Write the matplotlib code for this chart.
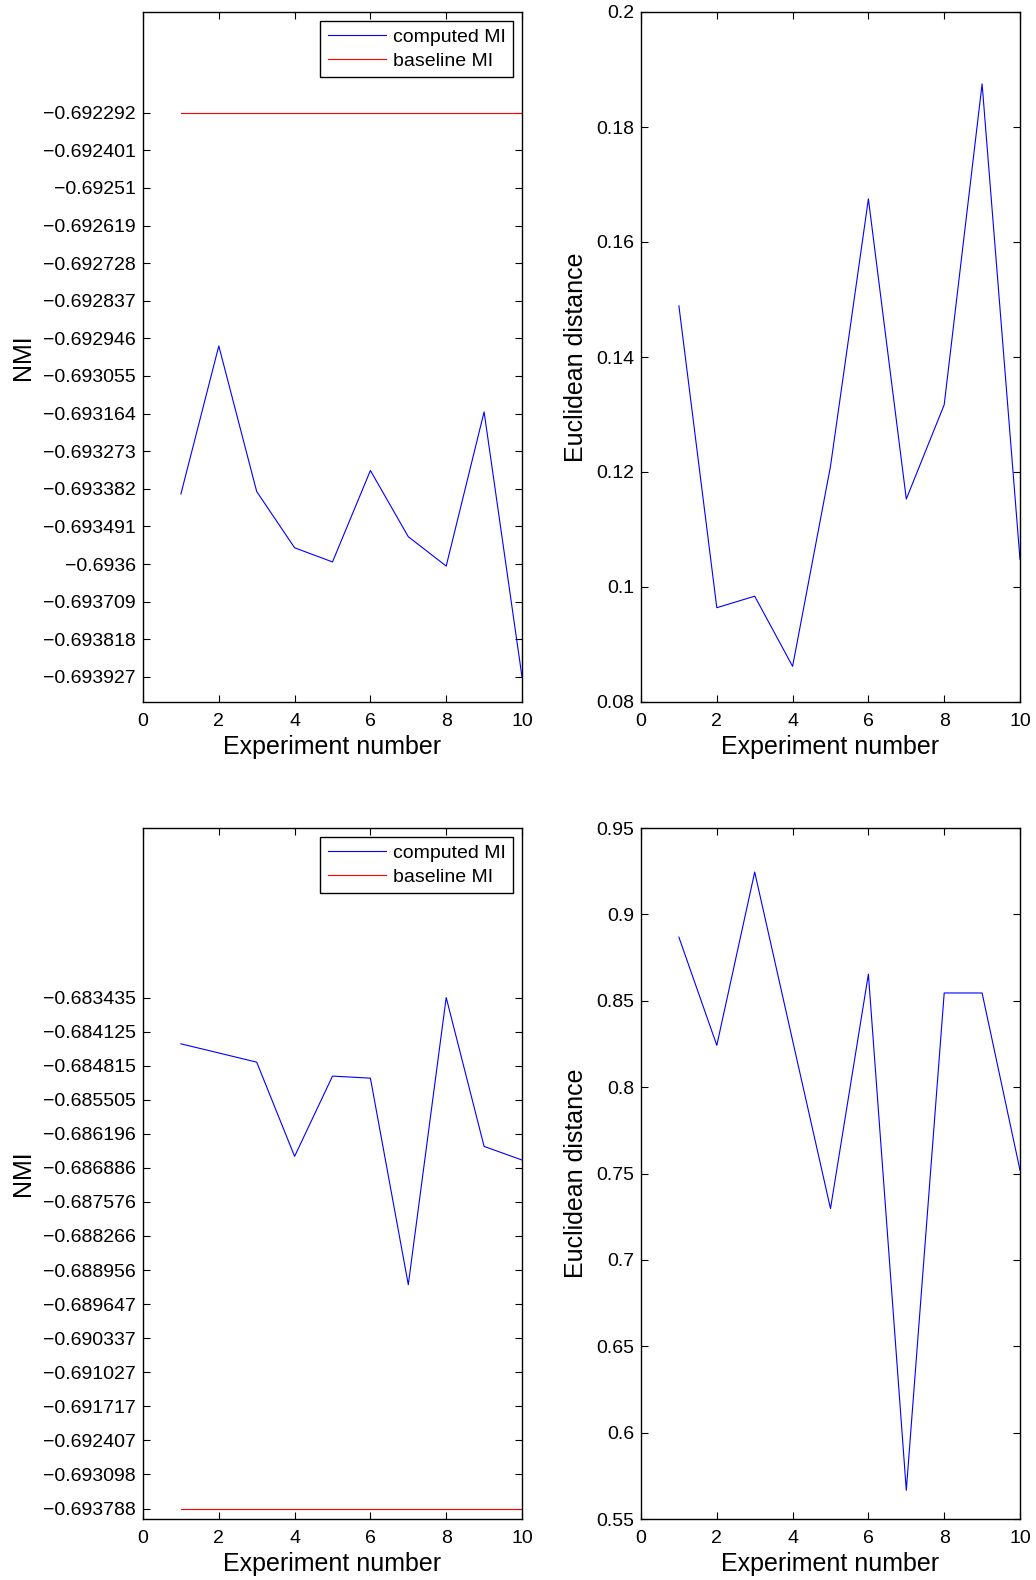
import matplotlib
matplotlib.use("Agg")
import matplotlib.pyplot as plt

plt.rcParams['font.family'] = ['Liberation Sans', 'DejaVu Sans']

# ---------------- data ----------------
experiments = [1, 2, 3, 4, 5, 6, 7, 8, 9, 10]

nmi_top = [-0.693397, -0.692968, -0.693390, -0.693553, -0.693594,
           -0.693329, -0.693521, -0.693606, -0.693159, -0.693927]
baseline_top = -0.692292
nmi_top_ticklabels = ['-0.692292', '-0.692401', '-0.69251', '-0.692619',
                      '-0.692728', '-0.692837', '-0.692946', '-0.693055',
                      '-0.693164', '-0.693273', '-0.693382', '-0.693491',
                      '-0.6936', '-0.693709', '-0.693818', '-0.693927']

dist_top = [0.1489, 0.0964, 0.0984, 0.0862, 0.1210,
            0.1675, 0.1153, 0.1317, 0.1875, 0.1048]
dist_top_ticks = [0.08, 0.10, 0.12, 0.14, 0.16, 0.18, 0.20]
dist_top_ticklabels = ['0.08', '0.1', '0.12', '0.14', '0.16', '0.18', '0.2']

nmi_bot = [-0.684373, -0.684558, -0.684744, -0.686653, -0.685027,
           -0.685068, -0.689252, -0.683435, -0.686451, -0.686727]
baseline_bot = -0.693788
nmi_bot_ticklabels = ['-0.683435', '-0.684125', '-0.684815', '-0.685505',
                      '-0.686196', '-0.686886', '-0.687576', '-0.688266',
                      '-0.688956', '-0.689647', '-0.690337', '-0.691027',
                      '-0.691717', '-0.692407', '-0.693098', '-0.693788']

dist_bot = [0.8868, 0.8242, 0.9245, 0.8270, 0.7297,
            0.8654, 0.5666, 0.8545, 0.8545, 0.7519]
dist_bot_ticks = [0.55, 0.60, 0.65, 0.70, 0.75, 0.80, 0.85, 0.90, 0.95]
dist_bot_ticklabels = ['0.55', '0.6', '0.65', '0.7', '0.75', '0.8', '0.85', '0.9', '0.95']

x_ticks = [0, 2, 4, 6, 8, 10]

# ---------------- figure ----------------
W, H = 1036, 1580
fig = plt.figure(figsize=(W / 100, H / 100), dpi=100)


def make_ax(left, top, right, bottom):
    return fig.add_axes([left / W, 1 - bottom / H, (right - left) / W, (bottom - top) / H])


ax_tl = make_ax(143, 12, 522, 702)
ax_tr = make_ax(641, 12, 1020, 702)
ax_bl = make_ax(143, 828, 522, 1519)
ax_br = make_ax(641, 828, 1020, 1519)

TICK_FS = 14
LABEL_FS = 18


def style(ax):
    ax.set_xlim(0, 10)
    ax.set_xticks(x_ticks)
    ax.set_xticklabels([str(t) for t in x_ticks])
    ax.tick_params(direction='in', length=5, width=0.8, top=True, right=True,
                   labelsize=TICK_FS, pad=5, colors='black')
    ax.tick_params(axis='x', pad=7.8)
    for s in ax.spines.values():
        s.set_linewidth(1.0)
        s.set_color('black')
    ax.set_xlabel('Experiment number', fontsize=LABEL_FS, labelpad=3.5)


def minus(s):
    return s.replace('-', '\u2212')


def nmi_panel(ax, vals, base, labels, ylim):
    ax.plot(experiments, vals, color=(0, 0, 1), lw=0.8, label='computed MI')
    ax.plot(experiments, [base] * len(experiments), color=(1, 0, 0), lw=0.8,
            label='baseline MI')
    ax.set_ylim(*ylim)
    ax.set_yticks([float(l) for l in labels])
    ax.set_yticklabels([minus(l) for l in labels])
    style(ax)
    ax.set_ylabel('NMI', fontsize=LABEL_FS, labelpad=6)
    leg = ax.legend(loc='upper right', fontsize=14, frameon=True, fancybox=False,
                    framealpha=1, edgecolor='black', borderpad=0.38,
                    labelspacing=0.32, handlelength=3.0, handletextpad=0.35,
                    borderaxespad=0.45)
    leg.get_frame().set_linewidth(1.0)


def dist_panel(ax, vals, ticks, labels, ylim):
    ax.plot(experiments, vals, color=(0, 0, 1), lw=0.8)
    ax.set_ylim(*ylim)
    ax.set_yticks(ticks)
    ax.set_yticklabels(labels)
    style(ax)
    ax.set_ylabel('Euclidean distance', fontsize=LABEL_FS, labelpad=6)


nmi_panel(ax_tl, nmi_top, baseline_top, nmi_top_ticklabels, (-0.694, -0.692))
dist_panel(ax_tr, dist_top, dist_top_ticks, dist_top_ticklabels, (0.08, 0.2))
nmi_panel(ax_bl, nmi_bot, baseline_bot, nmi_bot_ticklabels, (-0.694, -0.680))
dist_panel(ax_br, dist_bot, dist_bot_ticks, dist_bot_ticklabels, (0.55, 0.95))

fig.savefig('out.png', dpi=100)
